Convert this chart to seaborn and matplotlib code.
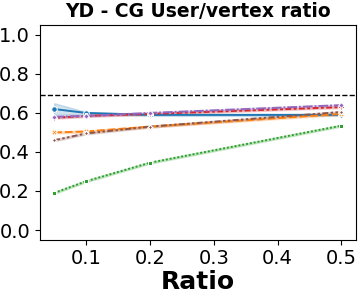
import pandas as pd
import seaborn as sns
import matplotlib.pyplot as plt

ratios = [0.05, 0.1, 0.2, 0.5]
methods = ['m1', 'm2', 'm3', 'm4', 'm5', 'm6']

# three runs per method, one value per ratio
m1_runs = [[0.59, 0.595, 0.585, 0.585], [0.62, 0.60, 0.59, 0.59], [0.65, 0.605, 0.595, 0.595]]
m2_runs = [[0.495, 0.50, 0.525, 0.59], [0.50, 0.505, 0.53, 0.595], [0.505, 0.51, 0.535, 0.60]]
m3_runs = [[0.185, 0.245, 0.34, 0.53], [0.19, 0.25, 0.345, 0.535], [0.195, 0.255, 0.35, 0.54]]
m4_runs = [[0.57, 0.58, 0.59, 0.625], [0.575, 0.585, 0.595, 0.63], [0.58, 0.59, 0.60, 0.635]]
m5_runs = [[0.575, 0.58, 0.595, 0.635], [0.58, 0.585, 0.60, 0.64], [0.585, 0.59, 0.605, 0.645]]
m6_runs = [[0.455, 0.49, 0.525, 0.60], [0.46, 0.495, 0.53, 0.605], [0.465, 0.50, 0.535, 0.61]]
baseline = 0.69

rows = []
for name, runs in zip(methods, [m1_runs, m2_runs, m3_runs, m4_runs, m5_runs, m6_runs]):
    for run in runs:
        for r, v in zip(ratios, run):
            rows.append({'method': name, 'Ratio': r, 'value': v})
df = pd.DataFrame(rows)

fig, ax = plt.subplots(figsize=(3.62, 2.96), dpi=100)
sns.lineplot(data=df, x='Ratio', y='value', hue='method', style='method',
             markers=True, dashes=True, errorbar=('pi', 100), markersize=4,
             linewidth=1.4, legend=False, ax=ax)
ax.axhline(baseline, color='black', linestyle='--', linewidth=1)
ax.set_ylim(-0.05, 1.05)
ax.set_yticks([0.0, 0.2, 0.4, 0.6, 0.8, 1.0])
ax.set_xticks([0.1, 0.2, 0.3, 0.4, 0.5])
ax.tick_params(labelsize=14)
ax.set_ylabel('')
ax.set_xlabel('Ratio', fontsize=18, fontweight='bold', labelpad=1)
ax.set_title('YD - CG User/vertex ratio', fontsize=13.5, fontweight='bold')
plt.subplots_adjust(left=0.11, right=0.983, top=0.915, bottom=0.19)
plt.savefig('out.png', dpi=100)
